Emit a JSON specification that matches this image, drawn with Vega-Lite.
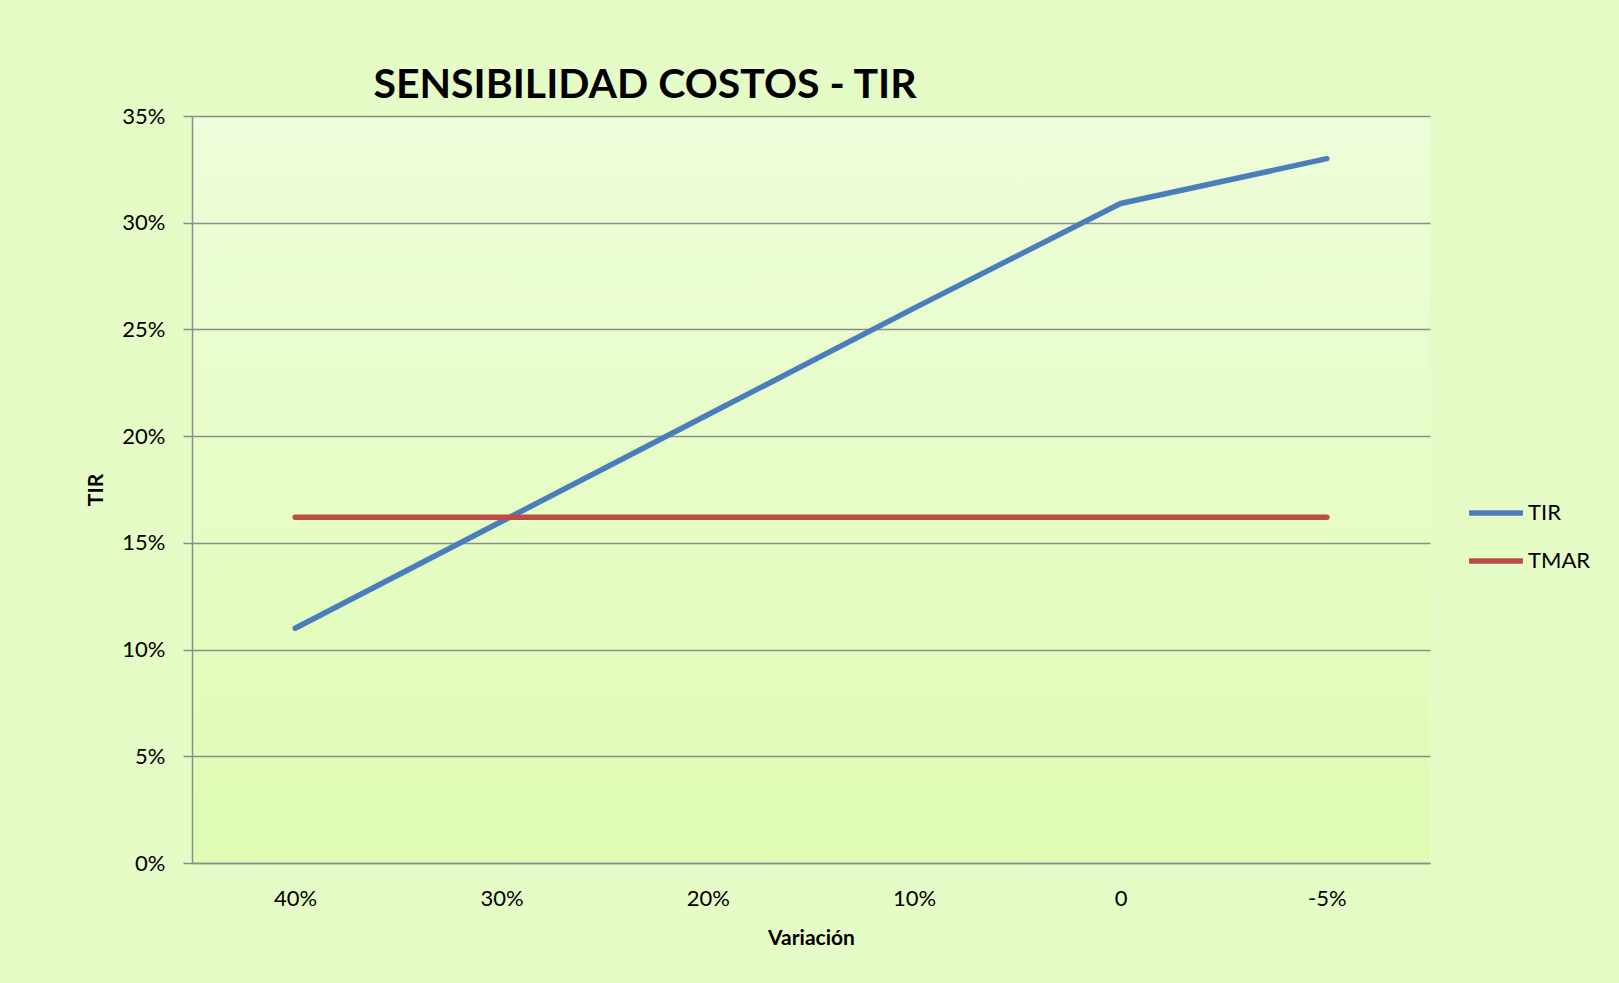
{
  "$schema": "https://vega.github.io/schema/vega-lite/v6.json",
  "autosize": {"type": "none"},
  "width": 1238,
  "height": 747,
  "padding": {"left": 192, "top": 116, "right": 189, "bottom": 120},
  "background": "#e6fcc6",
  "title": {
    "text": "SENSIBILIDAD COSTOS - TIR",
    "font": "Lato",
    "fontSize": 41,
    "fontWeight": "bold",
    "color": "#000000",
    "anchor": "middle",
    "dx": -166,
    "baseline": "alphabetic",
    "offset": -34
  },
  "data": {
    "values": [
      {"variacion": "40%", "serie": "TIR", "valor": 0.110},
      {"variacion": "30%", "serie": "TIR", "valor": 0.160},
      {"variacion": "20%", "serie": "TIR", "valor": 0.210},
      {"variacion": "10%", "serie": "TIR", "valor": 0.260},
      {"variacion": "0", "serie": "TIR", "valor": 0.309},
      {"variacion": "-5%", "serie": "TIR", "valor": 0.330},
      {"variacion": "40%", "serie": "TMAR", "valor": 0.162},
      {"variacion": "30%", "serie": "TMAR", "valor": 0.162},
      {"variacion": "20%", "serie": "TMAR", "valor": 0.162},
      {"variacion": "10%", "serie": "TMAR", "valor": 0.162},
      {"variacion": "0", "serie": "TMAR", "valor": 0.162},
      {"variacion": "-5%", "serie": "TMAR", "valor": 0.162}
    ]
  },
  "mark": {"type": "line", "strokeWidth": 5.5, "strokeCap": "round", "strokeJoin": "round"},
  "encoding": {
    "x": {
      "field": "variacion",
      "type": "ordinal",
      "sort": ["40%", "30%", "20%", "10%", "0", "-5%"],
      "scale": {"type": "point", "padding": 0.5},
      "axis": {
        "title": "Variación",
        "titleFont": "Lato",
        "titleFontSize": 21,
        "titleFontWeight": "bold",
        "titleColor": "#000000",
        "titlePadding": 18,
        "labelFont": "Lato",
        "labelFontSize": 22,
        "labelColor": "#000000",
        "labelAngle": 0,
        "labelPadding": 25,
        "ticks": false,
        "tickSize": 0,
        "grid": false,
        "domainColor": "#8c8c8c",
        "domainWidth": 1.5
      }
    },
    "y": {
      "field": "valor",
      "type": "quantitative",
      "scale": {"domain": [0, 0.35], "nice": false},
      "axis": {
        "title": "TIR",
        "titleFont": "Lato",
        "titleFontSize": 21,
        "titleFontWeight": "bold",
        "titleColor": "#000000",
        "titlePadding": 15,
        "values": [0, 0.05, 0.1, 0.15, 0.2, 0.25, 0.3, 0.35],
        "format": ".0%",
        "labelFont": "Lato",
        "labelFontSize": 22,
        "labelColor": "#000000",
        "labelPadding": 18,
        "tickSize": 9,
        "tickColor": "#8c8c8c",
        "tickWidth": 1.5,
        "grid": true,
        "gridColor": "#8c8c8c",
        "gridWidth": 1.5,
        "gridOpacity": 1,
        "domainColor": "#8c8c8c",
        "domainWidth": 1.5
      }
    },
    "color": {
      "field": "serie",
      "type": "nominal",
      "scale": {"domain": ["TIR", "TMAR"], "range": ["#4a7ebb", "#be4b48"]},
      "legend": {
        "title": null,
        "orient": "none",
        "legendX": 1274,
        "legendY": 367,
        "symbolType": "stroke",
        "symbolSize": 2900,
        "symbolStrokeWidth": 5.5,
        "labelFont": "Lato",
        "labelFontSize": 22,
        "labelColor": "#000000",
        "labelOffset": 2,
        "rowPadding": 7
      }
    }
  },
  "config": {
    "view": {
      "stroke": null,
      "fill": {
        "gradient": "linear",
        "x1": 0, "y1": 0, "x2": 0, "y2": 1,
        "stops": [
          {"offset": 0, "color": "#eefdda"},
          {"offset": 1, "color": "#defcb2"}
        ]
      }
    }
  }
}
